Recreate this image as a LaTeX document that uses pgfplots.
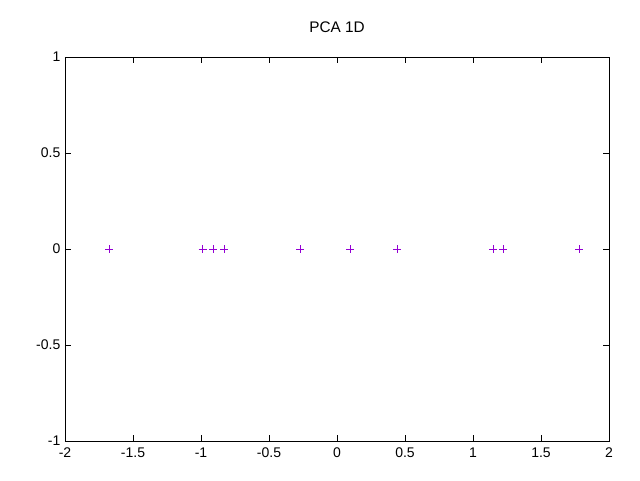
\documentclass[border=0pt]{standalone}
\usepackage{pgfplots}
\pgfplotsset{compat=1.18}
\usepackage{fontspec}
\setmainfont{Liberation Sans}
\definecolor{gpurple}{HTML}{9400D3}
\begin{document}
\begin{tikzpicture}[x=1pt,y=1pt]
\path[use as bounding box] (0,0) rectangle (480,360);
\begin{axis}[
  at={(48.75pt,29.25pt)}, anchor=south west,
  scale only axis, width=408pt, height=288pt,
  xmin=-2, xmax=2, ymin=-1, ymax=1,
  xtick={-2,-1.5,-1,-0.5,0,0.5,1,1.5,2},
  ytick={-1,-0.5,0,0.5,1},
  tick align=inside, major tick length=4.5pt,
  tick style={black, line width=0.5pt},
  axis line style={line width=0.5pt},
  ticklabel style={font=\fontsize{10.5}{11}\selectfont},
  /pgf/number format/assume math mode=true,
  xticklabel style={yshift=-1.5pt},
  title={PCA 1D},
  title style={font=\fontsize{11.5}{12}\selectfont, yshift=9pt},
]
\addplot[only marks, mark=+, mark size=3pt, gpurple, line width=0.6pt] coordinates {
(-1.674,0) (-0.988,0) (-0.910,0) (-0.831,0) (-0.270,0) (0.098,0) (0.443,0) (1.149,0) (1.223,0) (1.782,0)
};
\end{axis}
\end{tikzpicture}
\end{document}
